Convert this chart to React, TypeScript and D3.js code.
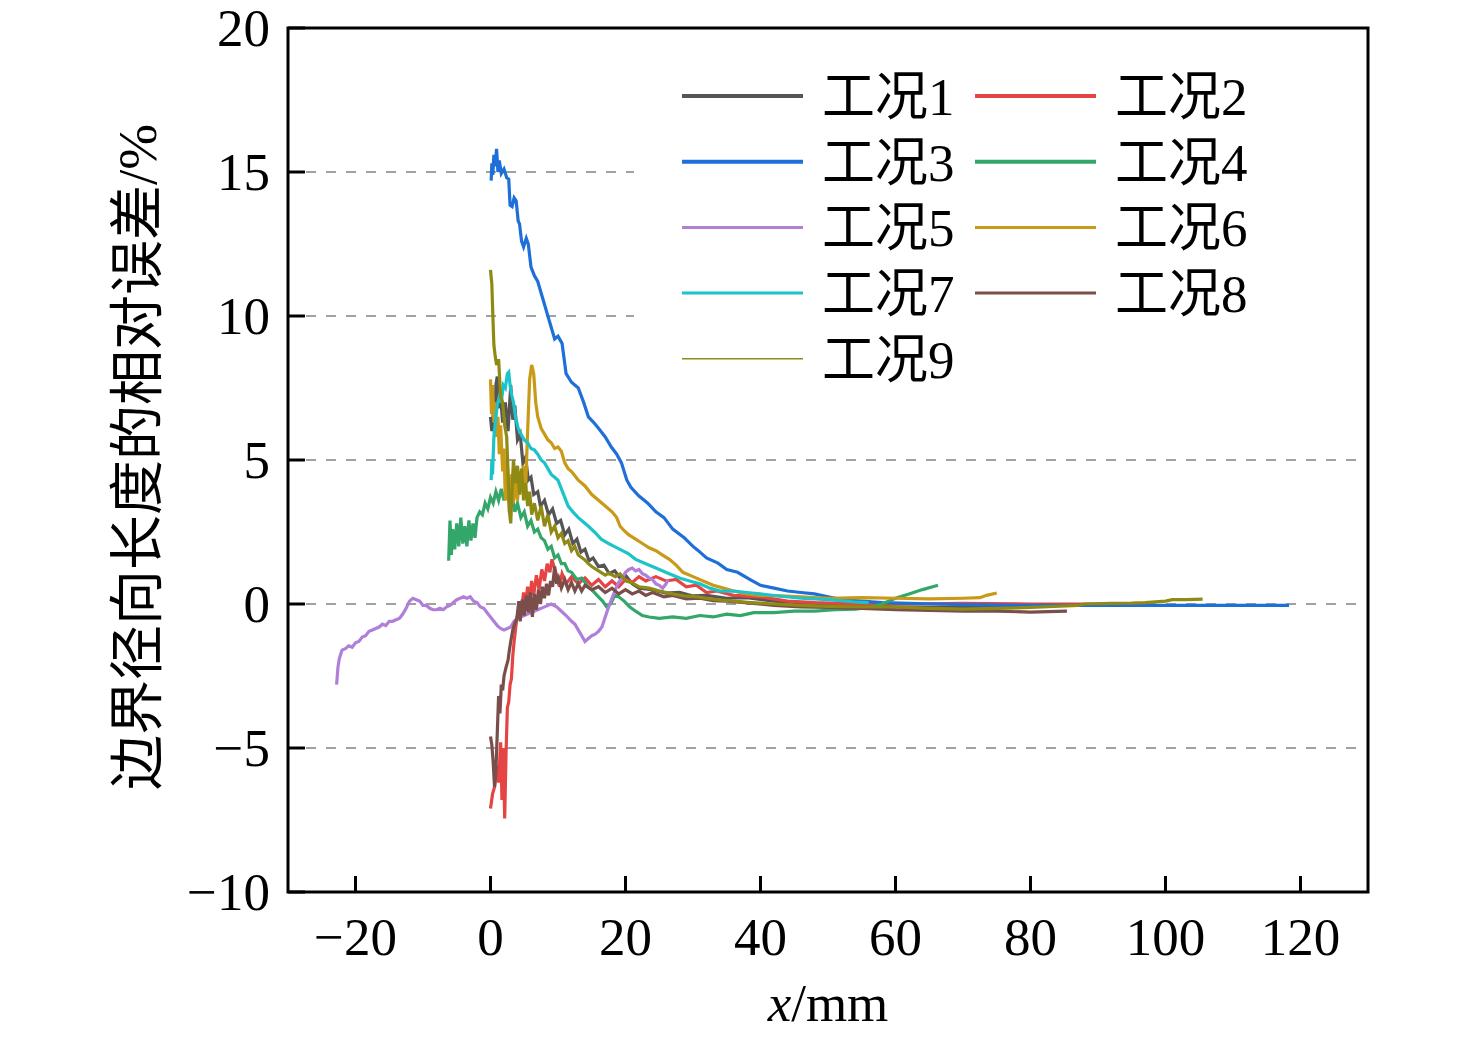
import React from "react";
import * as d3 from "d3";

type P = [number, number];

const seriesNames = ["工况1", "工况2", "工况3", "工况4", "工况5", "工况6", "工况7", "工况8", "工况9"];
const seriesColors = ["#555555", "#e64343", "#1f6fd8", "#33a66a", "#b07fd9", "#c99a18", "#1cc4c9", "#7a4f4b", "#8e8a14"];
const legendWidths = [4, 4, 4, 4, 3, 3, 3, 3, 1.5];

const xTicks = [-20, 0, 20, 40, 60, 80, 100, 120];
const yTicks = [-10, -5, 0, 5, 10, 15, 20];
const gridValues = [15, 10, 5, 0, -5];

const case1: P[] = [[0,6.5],[0.2,6.0],[0.4,6.6],[0.6,5.9],[0.8,7.6],[1.0,7.9],[1.2,6.8],[1.5,7.2],[1.8,6.3],[2.2,7.0],[2.6,6.0],[3.0,7.6],[3.3,6.4],[3.6,6.9],[4.0,5.7],[4.4,5.9],[4.8,4.9],[5.2,5.1],[5.6,4.3],[6.0,4.4],[6.4,3.8],[7.0,3.9],[7.4,3.4],[8.0,3.6],[8.6,3.1],[9.2,3.3],[9.8,2.8],[10.4,2.9],[11.0,2.4],[11.6,2.6],[12.2,2.1],[12.8,2.25],[13.4,1.8],[14.0,1.9],[14.6,1.5],[15.2,1.6],[16,1.3],[16.8,1.35],[17.6,1.05],[18.4,1.15],[19.2,0.9],[20,1.0],[21,0.7],[22,0.55],[24,0.5],[26,0.38],[28,0.4],[30,0.28],[32,0.3],[35,0.2],[38,0.22],[42,0.1],[46,0.05],[50,0.0],[55,-0.05],[60,-0.1],[65,-0.12],[70,-0.1],[75,-0.12],[80,-0.08],[84,-0.05]];
const case2: P[] = [[0,-7.1],[0.3,-6.6],[0.6,-6.35],[0.9,-5.6],[1.2,-6.2],[1.5,-4.8],[1.7,-6.8],[1.9,-5.0],[2.1,-7.45],[2.3,-5.2],[2.5,-3.6],[2.7,-3.4],[2.9,-2.8],[3.1,-2.6],[3.3,-1.8],[3.5,-1.3],[3.7,-0.9],[3.9,-0.5],[4.1,-0.3],[4.3,0.1],[4.6,-0.2],[4.9,0.4],[5.2,0.0],[5.5,0.6],[5.8,0.1],[6.1,0.8],[6.4,0.3],[6.8,1.0],[7.2,0.5],[7.6,1.2],[8.0,0.8],[8.4,1.4],[8.8,1.1],[9.1,1.55],[9.4,1.3],[9.8,1.0],[10.2,0.6],[10.6,1.05],[11.2,0.7],[12,0.95],[13,0.7],[14,0.9],[15,0.65],[16,0.85],[17,0.6],[18,0.8],[19,0.6],[20,0.85],[21,0.75],[22,0.95],[23,0.8],[24.5,0.95],[26,0.8],[27.5,0.85],[29,0.6],[30.5,0.65],[32,0.4],[33.5,0.45],[36,0.3],[40,0.25],[44,0.1],[48,0.05],[55,0.0],[62,0.0],[70,0.02],[80,0.0],[90,0.0]];
const case3: P[] = [[0.1,14.7],[0.2,15.3],[0.35,14.9],[0.5,15.6],[0.7,15.2],[0.9,15.8],[1.1,15.0],[1.3,15.4],[1.6,14.95],[2.0,15.1],[2.4,14.8],[2.7,14.75],[2.9,13.85],[3.2,13.8],[3.5,14.1],[3.8,14.0],[4.1,13.3],[4.3,13.2],[4.6,12.6],[4.9,12.4],[5.3,12.7],[5.6,12.5],[6.0,11.7],[6.5,11.4],[7.0,11.2],[7.5,10.8],[8.0,10.4],[8.5,10.0],[9.0,9.6],[9.5,9.2],[10.0,9.3],[10.6,9.05],[11.2,8.0],[12.0,7.7],[13,7.5],[13.8,7.0],[14.5,6.5],[15.3,6.3],[16,6.1],[17,5.8],[17.9,5.45],[18.7,5.2],[19.4,4.9],[20.2,4.3],[20.8,4.05],[22,3.75],[23.3,3.5],[24.5,3.2],[25.7,3.0],[27,2.6],[28.7,2.3],[30,2.0],[30.7,1.87],[32,1.6],[33.7,1.42],[35,1.2],[36.6,1.1],[38.6,0.83],[40,0.65],[42,0.55],[44,0.45],[46,0.4],[48,0.35],[50,0.25],[52,0.15],[55,0.1],[58,0.05],[62,0.02],[66,0.0],[70,-0.02],[80,-0.05],[90,-0.05],[100,-0.05],[110,-0.05],[118.3,-0.05]];
const case4: P[] = [[-6.2,1.5],[-6.0,2.9],[-5.8,1.7],[-5.6,2.6],[-5.3,1.9],[-5.0,2.8],[-4.7,2.0],[-4.4,3.0],[-4.1,2.1],[-3.8,2.7],[-3.5,2.0],[-3.2,2.9],[-2.9,2.2],[-2.6,2.8],[-2.3,2.3],[-2.0,3.0],[-1.6,3.2],[-1.2,3.1],[-0.8,3.5],[-0.4,3.3],[0,3.7],[0.4,3.5],[0.8,3.9],[1.2,3.6],[1.6,4.0],[2.0,3.6],[2.4,4.05],[2.8,3.5],[3.2,3.8],[3.6,3.2],[4.0,3.5],[4.5,3.0],[5.0,3.2],[5.5,2.7],[6.0,2.9],[6.5,2.5],[7.0,2.6],[7.5,2.3],[8.0,2.2],[8.5,1.9],[9.0,2.0],[9.5,1.6],[10.0,1.7],[10.5,1.4],[11.0,1.4],[11.5,1.15],[12.0,1.1],[12.8,0.85],[13.5,0.9],[14.5,0.6],[15.2,0.45],[16.0,0.25],[16.6,0.1],[17.2,-0.1],[17.8,0.0],[18.4,0.3],[19.0,0.25],[19.8,0.1],[20.6,-0.1],[21.5,-0.25],[22.5,-0.4],[23.5,-0.45],[25,-0.5],[27,-0.45],[29,-0.5],[31,-0.4],[33,-0.45],[35,-0.35],[37,-0.4],[39,-0.3],[42,-0.3],[45,-0.25],[48,-0.25],[51,-0.2],[54,-0.18],[56,-0.12],[58,0.0],[60,0.2],[62,0.35],[64,0.5],[66.3,0.65]];
const case5: P[] = [[-22.8,-2.8],[-22.6,-2.2],[-22.4,-1.9],[-22.0,-1.6],[-21.5,-1.55],[-21,-1.45],[-20.5,-1.5],[-20,-1.35],[-19.5,-1.3],[-19,-1.15],[-18.5,-1.1],[-18,-0.95],[-17.5,-0.9],[-17,-0.85],[-16.5,-0.8],[-16,-0.7],[-15.5,-0.75],[-15,-0.6],[-14.5,-0.6],[-14,-0.55],[-13.5,-0.5],[-13,-0.35],[-12.5,-0.15],[-12,0.1],[-11.5,0.2],[-11,0.15],[-10.5,0.1],[-10,-0.05],[-9.5,-0.05],[-9,-0.15],[-8.5,-0.2],[-8,-0.2],[-7.5,-0.15],[-7,-0.2],[-6.5,-0.1],[-6,-0.05],[-5.5,0.05],[-5,0.15],[-4.5,0.2],[-4,0.25],[-3.5,0.2],[-3,0.25],[-2.5,0.1],[-2,0.05],[-1.5,-0.1],[-1,-0.15],[-0.5,-0.3],[0,-0.45],[0.5,-0.6],[1,-0.75],[1.5,-0.85],[2,-0.9],[2.5,-0.85],[3,-0.8],[3.5,-0.6],[4,-0.5],[5,-0.4],[6,-0.3],[7,-0.2],[8,-0.1],[9,0.0],[9.8,-0.1],[10.5,-0.25],[11.2,-0.4],[12,-0.6],[12.5,-0.7],[13,-0.9],[13.5,-1.1],[14,-1.3],[14.5,-1.2],[15,-1.1],[15.5,-1.05],[16,-0.95],[16.5,-0.8],[17,-0.45],[17.5,-0.1],[18,0.2],[18.5,0.5],[19,0.75],[19.5,0.9],[20,1.1],[20.5,1.2],[21,1.25],[21.5,1.15],[22,1.2],[22.5,1.05],[23,1.0],[23.5,0.9],[24,0.85],[24.5,0.7],[25,0.65],[25.5,0.55],[26,0.7],[26.3,0.85]];
const case6: P[] = [[0,7.8],[0.15,6.6],[0.3,7.6],[0.5,6.3],[0.7,7.0],[0.9,5.8],[1.1,6.5],[1.3,5.2],[1.5,6.2],[1.8,4.6],[2.0,5.4],[2.2,3.6],[2.5,5.0],[2.8,3.2],[3.1,4.5],[3.4,3.5],[3.7,4.3],[4.0,3.6],[4.3,4.6],[4.6,3.9],[4.9,4.8],[5.2,4.0],[5.5,6.0],[5.8,7.8],[6.1,8.3],[6.4,8.0],[6.7,7.0],[7.0,6.5],[7.5,6.1],[8.0,5.9],[8.5,5.7],[9.0,5.6],[9.5,5.4],[10,5.45],[10.5,5.3],[11,4.9],[11.5,4.7],[12,4.6],[12.5,4.45],[13,4.3],[13.5,4.2],[14,4.1],[15,3.8],[16,3.6],[17,3.4],[18,3.2],[18.7,3.0],[19.2,2.7],[19.8,2.55],[20.5,2.4],[21.5,2.25],[22.5,2.1],[23.5,1.95],[24.5,1.85],[25.5,1.7],[26.5,1.55],[27.5,1.35],[28.5,1.1],[30,0.95],[31.5,0.8],[33,0.65],[34.5,0.55],[36,0.45],[38,0.35],[40,0.3],[43,0.28],[46,0.25],[50,0.2],[55,0.22],[60,0.2],[65,0.18],[70,0.2],[72.5,0.22],[73.5,0.3],[75,0.38]];
const case7: P[] = [[0.1,4.3],[0.2,5.0],[0.3,4.5],[0.5,5.8],[0.8,6.5],[1.0,6.9],[1.3,7.2],[1.6,7.0],[1.9,7.6],[2.2,7.5],[2.5,8.0],[2.7,8.05],[2.9,7.6],[3.1,7.3],[3.4,7.0],[3.7,6.5],[4.1,6.1],[4.5,5.9],[5.0,5.7],[5.5,5.6],[6.0,5.4],[6.5,5.35],[7.0,5.2],[7.5,5.0],[8.0,4.9],[8.5,4.7],[9,4.5],[9.5,4.4],[10,4.3],[10.5,4.0],[11,3.7],[11.5,3.4],[12.2,3.2],[13,3.0],[13.5,2.9],[14.5,2.7],[15.4,2.5],[16.4,2.25],[17.5,2.1],[18.3,2.0],[19.4,1.87],[20.4,1.75],[21.5,1.55],[23,1.4],[24.5,1.25],[26.3,1.07],[28,0.9],[29.5,0.8],[31,0.7],[32.5,0.55],[34,0.45],[36,0.45],[38,0.4],[40,0.35],[43,0.27],[46,0.2],[50,0.15],[54,0.07],[56,0.05]];
const case8: P[] = [[0,-4.6],[0.2,-4.9],[0.4,-5.5],[0.6,-6.35],[0.8,-5.8],[1.0,-4.5],[1.2,-3.2],[1.4,-3.8],[1.6,-2.8],[1.8,-3.0],[2.0,-2.5],[2.3,-2.2],[2.6,-1.95],[2.8,-1.6],[3.0,-1.3],[3.3,-0.9],[3.6,-0.67],[3.9,-0.5],[4.2,0.1],[4.4,-0.6],[4.7,0.15],[5.0,-0.4],[5.3,0.3],[5.6,-0.3],[5.9,0.4],[6.2,-0.45],[6.5,0.35],[6.8,-0.2],[7.1,0.5],[7.4,0.0],[7.7,0.6],[8.0,0.2],[8.3,0.7],[8.6,0.3],[8.9,0.8],[9.2,0.6],[9.5,1.3],[9.8,0.7],[10.1,0.9],[10.5,0.55],[11,0.85],[11.5,0.5],[12,0.75],[12.5,0.45],[13,0.7],[13.5,0.45],[14,0.65],[15,0.5],[16,0.6],[17,0.4],[18,0.55],[19,0.35],[20,0.5],[21,0.35],[22,0.45],[23,0.3],[24,0.4],[25.7,0.25],[27,0.3],[29,0.18],[31,0.2],[33,0.12],[35,0.1],[38.6,0.03],[42,-0.05],[46,-0.1],[50,-0.12],[55,-0.15],[60,-0.2],[65,-0.22],[70,-0.25],[75,-0.25],[80,-0.28],[85.4,-0.25]];
const case9: P[] = [[0,11.6],[0.2,11.1],[0.35,10.0],[0.5,9.0],[0.7,8.6],[0.9,8.3],[1.2,8.5],[1.5,7.2],[1.8,7.0],[2.1,6.2],[2.4,5.8],[2.6,4.5],[2.8,3.2],[3.0,2.8],[3.2,4.0],[3.4,5.0],[3.7,4.2],[4.0,4.8],[4.3,3.8],[4.6,4.7],[4.9,3.6],[5.2,4.2],[5.5,3.4],[5.8,3.9],[6.1,3.1],[6.5,3.5],[7.0,2.9],[7.5,3.4],[8.0,2.7],[8.5,3.1],[9,2.5],[9.5,2.7],[10,2.3],[10.5,2.45],[11,2.1],[11.5,2.2],[12,1.85],[12.5,2.0],[13,1.7],[13.9,1.55],[14.5,1.4],[15,1.3],[16,1.15],[17,1.0],[17.5,1.07],[18.5,0.95],[19.2,1.05],[20,0.8],[20.8,0.75],[22,0.6],[23.5,0.55],[25,0.45],[27,0.35],[28.7,0.28],[30.7,0.25],[32.5,0.18],[35,0.12],[38.6,0.05],[42,0.0],[46,-0.05],[50,-0.08],[55,-0.1],[60,-0.1],[65,-0.15],[70,-0.18],[75,-0.15],[80,-0.12],[87,-0.05],[88,0.0],[92,0.02],[95,0.03],[97,0.05],[100,0.1],[101,0.15],[103,0.15],[105.5,0.17]];

const allSeries: P[][] = [case1, case2, case3, case4, case5, case6, case7, case8, case9];

const W = 1476;
const H = 1039;
const M = { left: 288, right: 1368, top: 28, bottom: 892 };
const FONT = "'Liberation Serif', 'Times New Roman', 'Noto Sans CJK SC', serif";

export default function App() {
  const x = d3.scaleLinear().domain([-30, 130]).range([M.left, M.right]);
  const y = d3.scaleLinear().domain([-10, 20]).range([M.bottom, M.top]);
  const line = d3.line<P>().x((d) => x(d[0])).y((d) => y(d[1]));

  const rowY = (i: number) => 96 + i * 65.7;

  return (
    <svg width={W} height={H} style={{ position: "absolute", left: 0, top: 0, background: "#fff" }} fontFamily={FONT}>
      <defs>
        <clipPath id="plot">
          <rect x={M.left} y={M.top} width={M.right - M.left} height={M.bottom - M.top} />
        </clipPath>
      </defs>
      {gridValues.map((v) => (
        <line key={v} x1={M.left + 18} x2={M.right - 8} y1={y(v)} y2={y(v)} stroke="#828282" strokeWidth={1.6} strokeDasharray="10,10" />
      ))}
      <rect x={634} y={40} width={728} height={352} fill="#fff" />
      <g clipPath="url(#plot)">
        {allSeries.map((s, i) => (
          <path key={i} d={line(s) || ""} fill="none" stroke={seriesColors[i]} strokeWidth={3.2} strokeLinejoin="miter" />
        ))}
      </g>
      {seriesNames.map((name, i) => {
        const col = i % 2;
        const row = Math.floor(i / 2);
        const lx = col === 0 ? 682 : 975;
        const ty = rowY(row);
        return (
          <g key={name}>
            <line x1={lx} x2={lx + 121} y1={ty} y2={ty} stroke={seriesColors[i]} strokeWidth={legendWidths[i]} />
            <text x={lx + 140} y={ty + 19} fontSize={53} fill="#000">{name}</text>
          </g>
        );
      })}
      <rect x={M.left} y={M.top} width={M.right - M.left} height={M.bottom - M.top} fill="none" stroke="#000" strokeWidth={3} />
      {xTicks.map((t) => (
        <g key={"x" + t}>
          <line x1={x(t)} x2={x(t)} y1={M.bottom} y2={M.bottom - 16} stroke="#000" strokeWidth={3} />
          <text x={x(t)} y={955} fontSize={53} textAnchor="middle" fill="#000">{t < 0 ? "\u2212" + Math.abs(t) : t}</text>
        </g>
      ))}
      {yTicks.map((t) => (
        <g key={"y" + t}>
          <line x1={M.left} x2={M.left + 17} y1={y(t)} y2={y(t)} stroke="#000" strokeWidth={3} />
          <text x={270} y={y(t) + 18} fontSize={53} textAnchor="end" fill="#000">{t < 0 ? "\u2212" + Math.abs(t) : t}</text>
        </g>
      ))}
      <text x={828} y={1021} fontSize={53} textAnchor="middle" fill="#000">
        <tspan fontStyle="italic">x</tspan>/mm
      </text>
      <text transform={`translate(156, 457) rotate(-90)`} fontSize={55} textAnchor="middle" fill="#000">边界径向长度的相对误差/%</text>
    </svg>
  );
}
